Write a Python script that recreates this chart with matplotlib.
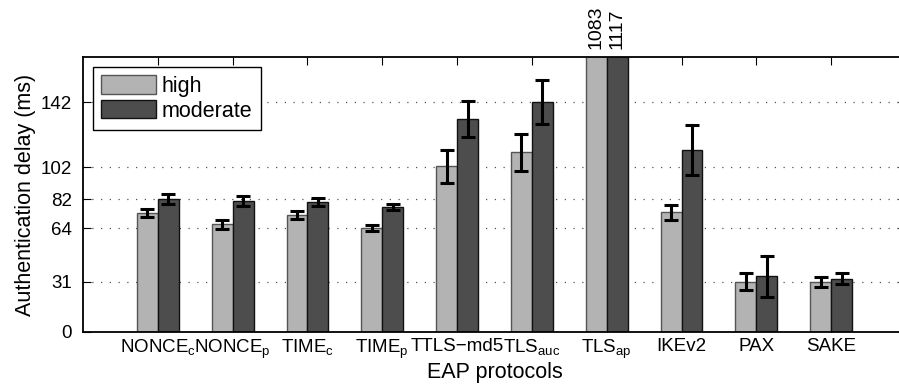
import numpy as np
import matplotlib
matplotlib.use('Agg')
import matplotlib.pyplot as plt

plt.rcParams['font.family'] = ['Liberation Sans', 'DejaVu Sans']
plt.rcParams['mathtext.fontset'] = 'custom'
plt.rcParams['mathtext.rm'] = 'Liberation Sans'

# data
protocols = [r'NONCE$_\mathrm{c}$', r'NONCE$_\mathrm{p}$', r'TIME$_\mathrm{c}$', r'TIME$_\mathrm{p}$',
             'TTLS\u2212md5', r'TLS$_\mathrm{auc}$', r'TLS$_\mathrm{ap}$', 'IKEv2', 'PAX', 'SAKE']
high = [73.5, 66.5, 72.2, 64.4, 102.4, 111.0, 1083, 73.9, 31.2, 31.0]
moderate = [82.3, 80.7, 80.1, 77.2, 131.7, 142.2, 1117, 112.5, 34.5, 33.0]
high_err = [2.5, 2.9, 2.3, 1.9, 10.1, 11.7, 0, 4.9, 5.2, 2.9]
moderate_err = [2.9, 3.1, 2.5, 1.9, 11.1, 13.4, 0, 15.2, 12.6, 3.5]
yticks = [0, 31, 64, 82, 102, 142]
ymax = 170

fig = plt.figure(figsize=(8.99, 3.92), dpi=100)
ax = fig.add_axes([83/899, 60/392, 823/899, 275/392])

x = np.arange(1, len(protocols) + 1)
w = 0.28
ax.bar(x - w/2, high, w, color='#b3b3b3', edgecolor='#555555', linewidth=1, label='high', zorder=2)
ax.bar(x + w/2, moderate, w, color='#4d4d4d', edgecolor='#111111', linewidth=1, label='moderate', zorder=2)
ax.errorbar(x - w/2, high, yerr=high_err, fmt='none', ecolor='black', elinewidth=2.2,
            capsize=5, capthick=2.2, zorder=3)
ax.errorbar(x + w/2, moderate, yerr=moderate_err, fmt='none', ecolor='black', elinewidth=2.2,
            capsize=5, capthick=2.2, zorder=3)

# values that go past the top of the axes
for xs, vals in ((x - w/2, high), (x + w/2, moderate)):
    for xi, v in zip(xs, vals):
        if v > ymax:
            ax.annotate(str(v), (xi, ymax), xytext=(0, 6), textcoords='offset points',
                        rotation=90, ha='center', va='bottom', fontsize=14, annotation_clip=False)

ax.set_xlim(0, 11)
ax.set_ylim(0, ymax)
ax.set_xticks(x)
ax.set_xticklabels(protocols, fontsize=13.5)
ax.set_yticks(yticks)
ax.tick_params(direction='in', top=True, right=True, length=6, width=0.8)
ax.tick_params(axis='x', pad=4)
ax.tick_params(axis='y', labelsize=13.5, pad=8)
ax.yaxis.grid(True, linestyle=(0, (1, 6)), color='#555555', linewidth=0.9, zorder=0)
ax.set_axisbelow(True)
for s in ax.spines.values():
    s.set_linewidth(1.3)

ax.set_xlabel('EAP protocols', fontsize=15.5, labelpad=1)
ax.set_ylabel('Authentication delay (ms)', fontsize=15.5, labelpad=3)

leg = ax.legend(loc='upper left', fontsize=15.5, fancybox=False, edgecolor='black',
                framealpha=1, handlelength=2.55, handleheight=0.93, borderaxespad=0.45,
                labelspacing=0.15, handletextpad=0.25, borderpad=0.4)
leg.get_frame().set_linewidth(1)

fig.savefig('out.png', dpi=100)
